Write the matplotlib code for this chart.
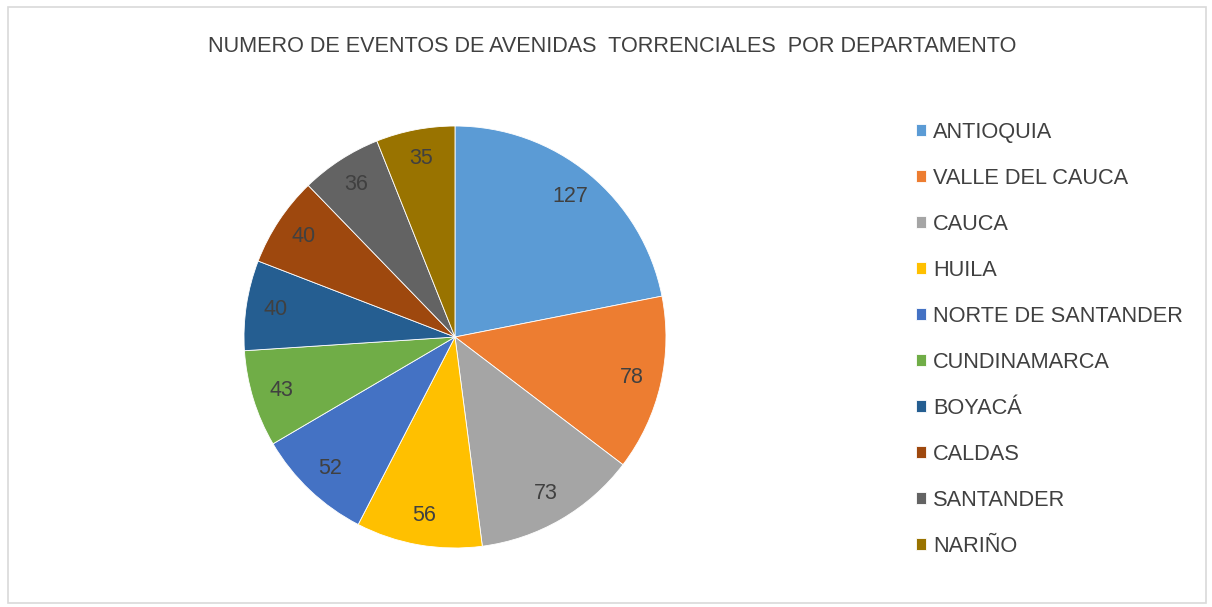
import matplotlib
matplotlib.use("Agg")
import matplotlib.pyplot as plt
from matplotlib.patches import Rectangle

plt.rcParams['font.family'] = ['Liberation Sans', 'DejaVu Sans']

departamentos = ["ANTIOQUIA", "VALLE DEL CAUCA", "CAUCA", "HUILA", "NORTE DE SANTANDER",
                 "CUNDINAMARCA", "BOYACÁ", "CALDAS", "SANTANDER", "NARIÑO"]
eventos = [127, 78, 73, 56, 52, 43, 40, 40, 36, 35]
colores = ["#5B9BD5", "#ED7D31", "#A5A5A5", "#FFC000", "#4472C4",
           "#70AD47", "#255E91", "#9E480E", "#636363", "#997300"]

fig = plt.figure(figsize=(12.12, 6.07), dpi=100)
fig.patch.set_facecolor("white")

# marco gris del grafico
fig.patches.append(Rectangle((8/1212, 4/607), 1198/1212, 596/607, transform=fig.transFigure,
                             fill=False, edgecolor="#d9d9d9", linewidth=1.2))

ax = fig.add_axes([0.2013, 0.0972, 0.3482, 0.6952])
wedges, texts = ax.pie(eventos, colors=colores, startangle=90, counterclock=False,
                       labels=[str(v) for v in eventos], labeldistance=0.86,
                       wedgeprops=dict(edgecolor="white", linewidth=0.6),
                       textprops=dict(color="#404040", fontsize=15.5))
for t in texts:
    t.set_ha("center")
    t.set_va("center")
ax.set_xlim(-1, 1)
ax.set_ylim(-1, 1)
ax.set_aspect("equal")

fig.text(0.505, 1 - 46/607, "NUMERO DE EVENTOS DE AVENIDAS  TORRENCIALES  POR DEPARTAMENTO",
         ha="center", va="center", fontsize=15.6, color="#404040")

fig.legend(wedges, departamentos, loc="upper left", bbox_to_anchor=(916/1212, 1 - 122/607),
           frameon=False, fontsize=15.7, labelcolor="#404040", handlelength=0.48,
           handleheight=0.48, handletextpad=0.3, labelspacing=1.145,
           borderpad=0, borderaxespad=0)

fig.savefig("out.png", dpi=100, facecolor="white")
